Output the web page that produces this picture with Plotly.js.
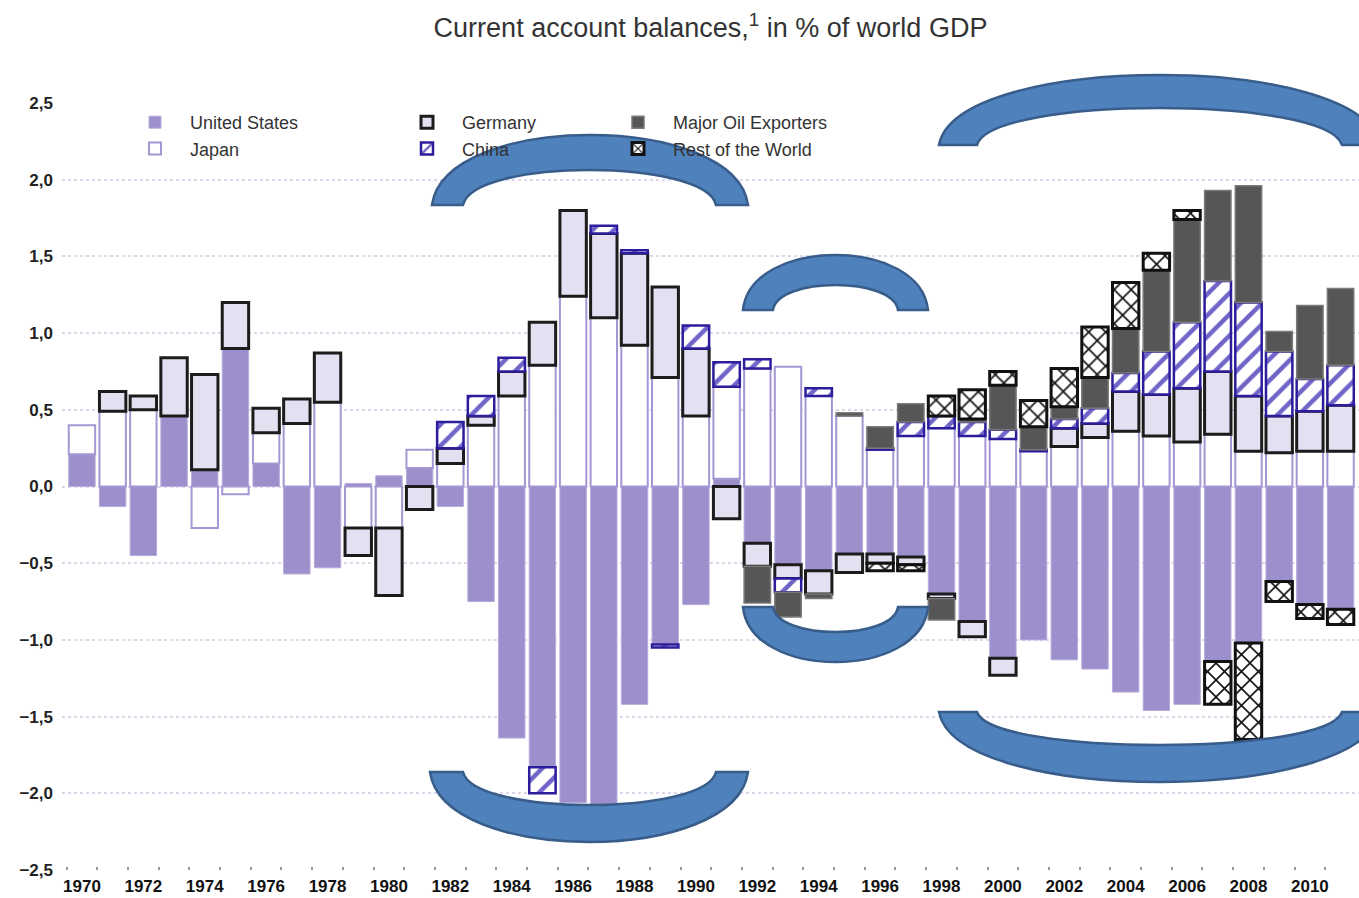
<!DOCTYPE html>
<html>
<head>
<meta charset="utf-8">
<script src="https://cdn.plot.ly/plotly-3.0.1.min.js"></script>
<style>
  html, body { margin: 0; padding: 0; background: #ffffff; }
  #chart { width: 1359px; height: 898px; }
</style>
</head>
<body>
<div id="chart"></div>
<script>
// ---------------- data ----------------
const years = [1970,1971,1972,1973,1974,1975,1976,1977,1978,1979,
               1980,1981,1982,1983,1984,1985,1986,1987,1988,1989,
               1990,1991,1992,1993,1994,1995,1996,1997,1998,1999,
               2000,2001,2002,2003,2004,2005,2006,2007,2008,2009,
               2010,2011];

const unitedStates = [0.21,-0.13,-0.45,0.46,0.11,0.90,0.15,-0.57,-0.53,0.02,
                      0.07,0.12,-0.13,-0.75,-1.64,-1.83,-2.06,-2.07,-1.42,-1.03,
                      -0.77,0.05,-0.37,-0.51,-0.55,-0.44,-0.44,-0.46,-0.70,-0.88,
                      -1.12,-1.00,-1.13,-1.19,-1.34,-1.46,-1.42,-1.14,-1.02,-0.62,
                      -0.77,-0.80];

const japan = [0.19,0.49,0.50,null,-0.27,-0.05,0.20,0.41,0.55,-0.27,
               -0.27,0.12,0.15,0.40,0.59,0.79,1.24,1.10,0.92,0.71,
               0.46,0.60,0.77,0.78,0.59,0.46,0.24,0.33,0.38,0.33,
               0.31,0.23,0.26,0.32,0.36,0.33,0.29,0.34,0.23,0.22,
               0.23,0.23];

const germany = [null,0.13,0.09,0.38,0.62,0.30,0.16,0.16,0.32,-0.18,
                 -0.44,-0.15,0.10,0.06,0.16,0.28,0.56,0.55,0.60,0.59,
                 0.44,-0.21,-0.15,-0.09,-0.15,-0.12,-0.06,-0.05,-0.03,-0.10,
                 -0.11,null,0.12,0.09,0.26,0.27,0.35,0.41,0.36,0.24,
                 0.26,0.30];

const china = [null,null,null,null,null,null,null,null,null,null,
               null,null,0.17,0.13,0.09,-0.17,null,0.05,0.02,-0.02,
               0.15,0.16,0.06,-0.09,0.05,null,0.01,0.09,0.08,0.09,
               0.06,0.01,0.06,0.10,0.12,0.28,0.43,0.59,0.61,0.42,
               0.21,0.26];

const majorOilExporters = [null,null,null,null,null,null,null,null,null,null,
                           null,null,null,null,null,null,null,null,null,null,
                           null,null,-0.24,-0.16,-0.03,0.02,0.14,0.12,-0.14,0.02,
                           0.29,0.15,0.08,0.20,0.29,0.53,0.67,0.59,0.76,0.13,
                           0.48,0.50];

const restOfWorld = [null,null,null,null,null,null,null,null,null,null,
                     null,null,null,null,null,null,null,null,null,null,
                     null,null,null,null,null,null,-0.05,-0.04,0.13,0.19,
                     0.09,0.17,0.25,0.33,0.30,0.11,0.06,-0.28,-0.63,-0.13,
                     -0.09,-0.10];

const seriesNames = ["United States","Japan","Germany","China","Major Oil Exporters","Rest of the World"];
const xTickYears = [1970,1972,1974,1976,1978,1980,1982,1984,1986,1988,1990,1992,1994,1996,1998,2000,2002,2004,2006,2008,2010];
const titleText = "Current account balances,<sup>1</sup> in % of world GDP";

// ---------------- styling ----------------
const FONT = "Liberation Sans, Arial, Helvetica, sans-serif";
const M = {l: 62, r: 0, t: 103, b: 28};
const W = 1359, H = 898;
const plotW = W - M.l - M.r, plotH = H - M.t - M.b;

const styles = [
  {color:'#9d8fcb', line:{color:'#b7acdc', width:1}},
  {color:'#ffffff', line:{color:'#a596d4', width:2}},
  {color:'#e4e0f1', line:{color:'#1c1c1c', width:3}},
  {color:'#ffffff', pattern:{shape:'/', fgcolor:'#7064c9', bgcolor:'#ffffff', size:15, solidity:0.3}, line:{color:'#2b1d9c', width:2.5}},
  {color:'#565656', line:{color:'#7a7a7a', width:1.5}},
  {color:'#ffffff', pattern:{shape:'x', fgcolor:'#111111', bgcolor:'#ffffff', size:12, solidity:0.25}, line:{color:'#111111', width:3}}
];
const legendFor = ['legend','legend','legend2','legend2','legend3','legend3'];
const values = [unitedStates, japan, germany, china, majorOilExporters, restOfWorld];

const traces = values.map((v, i) => ({
  type: 'bar',
  name: seriesNames[i],
  x: years,
  y: v,
  marker: styles[i],
  legend: legendFor[i],
  legendgroup: 'g' + i,
  hoverinfo: 'x+y+name'
}));

// decorative blue brackets overlaid on the reference (pixel geometry -> paper)
const px = x => (x - M.l) / plotW;
const py = y => (H - M.b - y) / plotH;
function arch(xo0, xo1, xi0, xi1, yBase, yOut, yIn) {
  const k = 4/3;
  const wo = xo1 - xo0, wi = xi1 - xi0;
  const co = yBase + (yOut - yBase) * k;
  const ci = yBase + (yIn - yBase) * k;
  return `M ${px(xo0)},${py(yBase)} C ${px(xo0 + 0.04*wo)},${py(co)} ${px(xo1 - 0.04*wo)},${py(co)} ${px(xo1)},${py(yBase)} ` +
         `L ${px(xi1)},${py(yBase)} C ${px(xi1 - 0.04*wi)},${py(ci)} ${px(xi0 + 0.04*wi)},${py(ci)} ${px(xi0)},${py(yBase)} Z`;
}
const brackets = [
  [432, 748, 463, 716, 205, 135, 170],
  [430, 748, 463, 716, 772, 842, 805],
  [743, 928, 773, 898, 310, 255, 285],
  [743, 928, 773, 898, 607, 662, 632],
  [939, 1380, 977, 1342, 145, 75, 108],
  [939, 1380, 977, 1342, 712, 782, 745]
];
const shapes = brackets.map(b => ({
  type: 'path', xref: 'paper', yref: 'paper', layer: 'above',
  path: arch(...b),
  fillcolor: '#4f81bd',
  line: {color: '#385d8a', width: 2.5}
}));

const legendBase = {
  orientation: 'v', xref: 'paper', yref: 'paper', xanchor: 'left', yanchor: 'top',
  y: py(104), bgcolor: 'rgba(0,0,0,0)', borderwidth: 0, itemwidth: 60,
  tracegroupgap: 0, traceorder: 'normal',
  font: {family: FONT, size: 18, color: '#333333'}
};

const layout = {
  width: W, height: H,
  margin: M,
  paper_bgcolor: '#ffffff', plot_bgcolor: '#ffffff',
  separators: ', ',
  barmode: 'relative',
  bargap: 0.14,
  showlegend: true,
  title: {text: titleText, x: 0.5, xref: 'paper', y: 1 - 28/H, yref: 'container', yanchor: 'middle',
          font: {family: FONT, size: 27, color: '#333333'}},
  xaxis: {
    range: [1969.35, 2011.6],
    tickmode: 'array', tickvals: xTickYears, ticktext: xTickYears.map(String),
    ticks: '', showgrid: false, zeroline: false, showline: false,
    tickfont: {family: FONT, size: 17, color: '#111111', weight: 'bold'},
    ticklabelstandoff: 4,
    minor: {tickmode: 'array', tickvals: years.map(y => y - 0.5), ticks: 'inside', ticklen: 3, tickcolor: '#999999', tickwidth: 2, showgrid: false},
    fixedrange: true
  },
  yaxis: {
    range: [-2.5, 2.5], tickmode: 'linear', tick0: -2.5, dtick: 0.5, tickformat: '.1f',
    showgrid: true, gridcolor: '#dcd6ec', gridwidth: 2, griddash: 'dot',
    zeroline: false, showline: false, ticks: '',
    tickfont: {family: FONT, size: 17, color: '#222222', weight: 'bold'},
    ticklabelstandoff: 8,
    fixedrange: true
  },
  legend:  Object.assign({}, legendBase, {x: px(120)}),
  legend2: Object.assign({}, legendBase, {x: px(392)}),
  legend3: Object.assign({}, legendBase, {x: px(603)}),
  shapes: shapes
};

Plotly.newPlot('chart', traces, layout, {displayModeBar: false, staticPlot: true});
</script>
</body>
</html>
